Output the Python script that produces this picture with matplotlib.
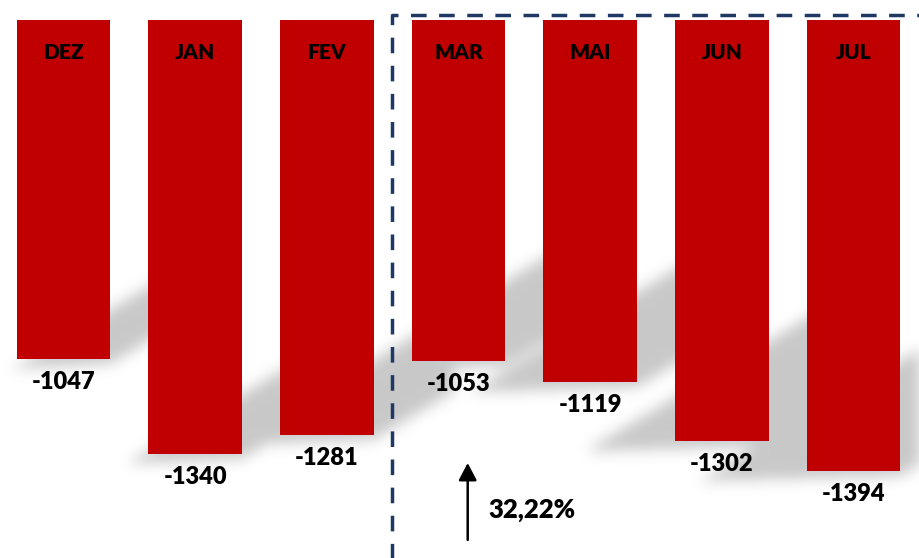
import numpy as np
import matplotlib
matplotlib.use("Agg")
import matplotlib.pyplot as plt
from matplotlib.path import Path

months = ["DEZ", "JAN", "FEV", "MAR", "MAI", "JUN", "JUL"]
values = [-1047, -1340, -1281, -1053, -1119, -1302, -1394]
growth_label = "32,22%"

RED = "#C00000"
NAVY = "#1F3864"

plt.rcParams["font.family"] = ["Lato", "DejaVu Sans"]

fig = plt.figure(figsize=(9.2, 5.58), dpi=100)
ax = fig.add_axes([0, 0, 1, 1])
ax.set_xlim(-0.482, 6.505)
ax.set_ylim(-1663, 63)
ax.axis("off")

x = np.arange(len(months))
bars = ax.bar(x, values, width=0.71, color=RED, zorder=3)

# soft perspective shadows behind the bars (drawn as a blurred raster)
W, H = 920, 558
yy, xx = np.mgrid[0:H, 0:W] + 0.5
pts = np.column_stack([xx.ravel(), yy.ravel()])
mask = np.zeros((H, W))
for i, b in enumerate(bars):
    (l, bot), (r, _) = ax.transData.transform([(b.get_x(), b.get_height()),
                                               (b.get_x() + b.get_width(), 0)])
    e = 5 + 17 * i
    run = 80
    poly = [(l - e, bot - 10), (r, bot - 5), (r + run, bot - 5 + 0.6 * run),
            (r + run, bot - 10 + 0.6 * (r + run - (l - e)))]
    inside = Path(poly).contains_points(pts).reshape(H, W)
    mask = np.maximum(mask, inside.astype(float))

sig = 7
k = np.arange(-3 * sig, 3 * sig + 1)
kern = np.exp(-k ** 2 / (2 * sig ** 2))
kern /= kern.sum()
blur = np.apply_along_axis(lambda v: np.convolve(v, kern, mode="same"), 1, mask)
blur = np.apply_along_axis(lambda v: np.convolve(v, kern, mode="same"), 0, blur)

rgba = np.zeros((H, W, 4))
rgba[..., :3] = 0.35
rgba[..., 3] = 0.33 * blur
ax.imshow(rgba, origin="lower", extent=(*ax.get_xlim(), *ax.get_ylim()),
          aspect="auto", zorder=1, interpolation="bilinear")

for xi, m, v in zip(x, months, values):
    ax.text(xi, -98, m, ha="center", va="center", fontsize=15,
            fontweight="heavy", color="black", zorder=4)
    ax.annotate(str(v), (xi, v), xytext=(0, -23), textcoords="offset pixels",
                ha="center", va="center", fontsize=17, fontweight="heavy",
                color="black", zorder=4)

# dashed frame around the second period
ax.plot([2.495, 2.495, 7.0], [-1800, 18, 18], color=NAVY, lw=2.5,
        linestyle=(0, (4.5, 3.6)), zorder=2)

# growth arrow
ax.annotate("", xy=(3.07, -1369), xytext=(3.07, -1607),
            arrowprops=dict(arrowstyle="-|>,head_length=0.42,head_width=0.22",
                            lw=1.8, color="black", mutation_scale=25,
                            shrinkA=0, shrinkB=0), zorder=4)
ax.text(3.224, -1514, growth_label, ha="left", va="center", fontsize=18.5,
        fontweight="heavy", color="black", zorder=4)

fig.savefig("out.png", dpi=100, facecolor="white")
